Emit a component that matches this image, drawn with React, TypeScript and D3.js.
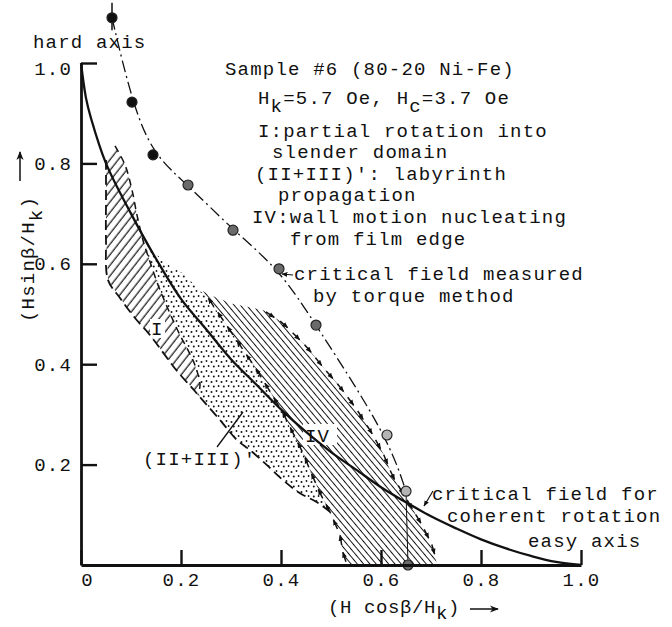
import { useEffect, useRef } from "react";
import * as d3 from "d3";

type Pt = [number, number];

const WIDTH = 672;
const HEIGHT = 627;
const MARGIN = { top: 63, right: 91, bottom: 62, left: 81 };
const FONT = "'Liberation Mono', 'Courier New', monospace";
const FS = 19;
const LS = 1.2;

const xTicks = [0, 0.2, 0.4, 0.6, 0.8, 1.0];
const yTicks = [0.2, 0.4, 0.6, 0.8, 1.0];

// critical field for coherent rotation (solid curve)
const astroidX = [0, 0.01, 0.02, 0.05, 0.1, 0.15, 0.2, 0.25, 0.3, 0.35, 0.4, 0.45, 0.5, 0.55, 0.6, 0.65, 0.7, 0.75, 0.8, 0.85, 0.9, 0.95, 1.0];
const astroidY = [1.0, 0.93, 0.89, 0.8, 0.7, 0.61, 0.53, 0.47, 0.41, 0.36, 0.31, 0.265, 0.225, 0.19, 0.155, 0.125, 0.097, 0.073, 0.051, 0.033, 0.018, 0.006, 0];

// critical field measured by torque method
const torqueX = [0.062, 0.102, 0.144, 0.214, 0.304, 0.396, 0.47, 0.612, 0.65];
const torqueY = [1.09, 0.922, 0.817, 0.757, 0.667, 0.59, 0.478, 0.259, 0.147];
const torqueKind = ["solid", "solid", "solid", "half", "half", "half", "half", "open", "open"];
const topErrorBar = [1.12, 1.065];
const easyPoint: Pt = [0.654, 0];

// region boundaries
const regionIOuter: Pt[] = [
  [0.05, 0.807], [0.05, 0.727], [0.05, 0.647], [0.054, 0.568], [0.078, 0.532], [0.108, 0.492],
  [0.138, 0.458], [0.168, 0.418], [0.194, 0.384], [0.222, 0.353], [0.234, 0.339],
];
const regionIInner: Pt[] = [
  [0.068, 0.835], [0.088, 0.797], [0.102, 0.747], [0.112, 0.697], [0.124, 0.647], [0.138, 0.604],
  [0.154, 0.558], [0.168, 0.524], [0.182, 0.492], [0.198, 0.458], [0.214, 0.428], [0.228, 0.398],
  [0.238, 0.359], [0.234, 0.339],
];
const lowerEdge: Pt[] = [
  [0.234, 0.339], [0.248, 0.323], [0.278, 0.289], [0.312, 0.249], [0.338, 0.229], [0.372, 0.199],
  [0.404, 0.169], [0.438, 0.143], [0.472, 0.125], [0.498, 0.106],
];
const dottedTop: Pt[] = [[0.124, 0.647], [0.168, 0.602], [0.208, 0.578], [0.232, 0.552]];
const ivTop: Pt[] = [[0.232, 0.552], [0.258, 0.538], [0.304, 0.52], [0.364, 0.508]];
const ivLeft: Pt[] = [
  [0.232, 0.552], [0.254, 0.532], [0.284, 0.488], [0.318, 0.438], [0.352, 0.388], [0.382, 0.339],
  [0.404, 0.303], [0.424, 0.263], [0.444, 0.223], [0.458, 0.189], [0.478, 0.143], [0.498, 0.106],
  [0.518, 0.06], [0.524, 0.024], [0.532, 0],
];
const ivRight: Pt[] = [
  [0.364, 0.508], [0.404, 0.482], [0.452, 0.434], [0.484, 0.394], [0.518, 0.355], [0.552, 0.309],
  [0.578, 0.269], [0.604, 0.223], [0.624, 0.175], [0.644, 0.143], [0.664, 0.11], [0.684, 0.076],
  [0.704, 0.036], [0.712, 0],
];

const markerFill: Record<string, string> = { solid: "#111", half: "#6a6a6a", open: "#b4b4b4" };

// split a pixel polyline into short dashes
function dashes(pts: Pt[], dash: number, gap: number) {
  const cum = [0];
  for (let i = 1; i < pts.length; i++) {
    cum.push(cum[i - 1] + Math.hypot(pts[i][0] - pts[i - 1][0], pts[i][1] - pts[i - 1][1]));
  }
  const total = cum[cum.length - 1];
  const at = (s: number): Pt => {
    let i = 1;
    while (i < cum.length - 1 && cum[i] < s) i++;
    const t = (s - cum[i - 1]) / (cum[i] - cum[i - 1] || 1);
    return [pts[i - 1][0] + t * (pts[i][0] - pts[i - 1][0]), pts[i - 1][1] + t * (pts[i][1] - pts[i - 1][1])];
  };
  const out: [Pt, Pt][] = [];
  for (let s = gap / 2; s + dash <= total; s += dash + gap) out.push([at(s), at(s + dash)]);
  return out;
}

export default function App() {
  const axesRef = useRef<SVGGElement>(null);

  const xScale = d3.scaleLinear().domain([0, 1]).range([MARGIN.left, WIDTH - MARGIN.right]);
  const yScale = d3.scaleLinear().domain([0, 1]).range([HEIGHT - MARGIN.bottom, MARGIN.top]);

  const px = (d: Pt): Pt => [xScale(d[0]), yScale(d[1])];
  const curve = d3.line<Pt>().x((d) => xScale(d[0])).y((d) => yScale(d[1])).curve(d3.curveCatmullRom.alpha(0.5));
  const smooth = d3.line<Pt>().x((d) => xScale(d[0])).y((d) => yScale(d[1])).curve(d3.curveBasis);
  const poly = d3.line<Pt>().x((d) => xScale(d[0])).y((d) => yScale(d[1])).curve(d3.curveLinearClosed);

  const astroid: Pt[] = astroidX.map((x, i) => [x, astroidY[i]]);
  const torque: Pt[] = torqueX.map((x, i) => [x, torqueY[i]]);

  const regionI = [...regionIOuter, ...regionIInner.slice().reverse()];
  const dotted = [
    ...dottedTop,
    ...ivLeft.slice(1, 12),
    ...lowerEdge.slice().reverse(),
    ...regionIInner.slice(4).reverse(),
  ];
  const regionIV = [...ivTop, ...ivRight, ...ivLeft.slice().reverse()];

  const upArrows = dashes(ivLeft.slice().reverse().map(px), 10, 7);
  const downArrows = dashes(ivRight.map(px), 10, 7);

  useEffect(() => {
    const g = d3.select(axesRef.current);
    g.selectAll("*").remove();

    const xAxis = d3
      .axisBottom(xScale)
      .tickValues(xTicks)
      .tickSizeInner(-15)
      .tickSizeOuter(0)
      .tickPadding(8)
      .tickFormat((d) => (d === 0 ? "0" : d3.format(".1f")(d as number)));
    const gx = g.append("g").attr("transform", `translate(0,${yScale(0)})`).call(xAxis);
    gx.selectAll<SVGTextElement, number>(".tick text").filter((d) => d === 0).attr("dx", 6);

    const yAxis = d3
      .axisLeft(yScale)
      .tickValues(yTicks)
      .tickSizeInner(-16)
      .tickSizeOuter(0)
      .tickPadding(9)
      .tickFormat(d3.format(".1f"));
    const gy = g.append("g").attr("transform", `translate(${xScale(0)},0)`).call(yAxis);
    gy.selectAll<SVGTextElement, number>(".tick text").filter((d) => d === 1).attr("y", 5);

    g.selectAll(".domain").attr("stroke", "#111").attr("stroke-width", 2.8);
    g.selectAll(".tick line").attr("stroke", "#111").attr("stroke-width", 2.4);
    g.selectAll("g").attr("font-family", null).attr("font-size", null);
    g.selectAll(".tick text")
      .attr("fill", "#111")
      .attr("font-family", FONT)
      .attr("font-size", FS)
      .attr("letter-spacing", LS);
  }, []);

  const textProps = { fontFamily: FONT, fontSize: FS, letterSpacing: LS, fill: "#111" };
  const sub = 8;

  return (
    <svg
      width={WIDTH}
      height={HEIGHT}
      style={{ position: "absolute", left: 0, top: 0, background: "#fff" }}
    >
      <defs>
        <pattern id="hatchI" width="6.5" height="6.5" patternUnits="userSpaceOnUse" patternTransform="rotate(38)">
          <line x1="3" y1="0" x2="3" y2="6.5" stroke="#111" strokeWidth="1.2" />
        </pattern>
        <pattern id="hatchIV" width="4.8" height="4.8" patternUnits="userSpaceOnUse" patternTransform="rotate(-40)">
          <line x1="2.4" y1="0" x2="2.4" y2="4.8" stroke="#111" strokeWidth="1" />
        </pattern>
        <pattern id="dots" width="10" height="10" patternUnits="userSpaceOnUse">
          <circle cx="1.5" cy="2" r="1" fill="#111" />
          <circle cx="6.5" cy="1" r="0.9" fill="#111" />
          <circle cx="3.8" cy="6.6" r="1" fill="#111" />
          <circle cx="8.6" cy="6" r="0.9" fill="#111" />
        </pattern>
        <marker id="arrow" viewBox="0 0 10 10" refX="9" refY="5" markerWidth="6" markerHeight="6"
          markerUnits="userSpaceOnUse" orient="auto">
          <path d="M0,1 L10,5 L0,9 z" fill="#111" />
        </marker>
        <marker id="bigArrow" viewBox="0 0 10 10" refX="9" refY="5" markerWidth="11" markerHeight="9"
          markerUnits="userSpaceOnUse" orient="auto">
          <path d="M0,1 L10,5 L0,9 L3,5 z" fill="#111" />
        </marker>
      </defs>

      {/* regions */}
      <path d={poly(regionI) ?? ""} fill="url(#hatchI)" />
      <path d={poly(dotted) ?? ""} fill="url(#dots)" />
      <path d={poly(regionIV) ?? ""} fill="url(#hatchIV)" />

      {/* label clearings */}
      <rect x={150} y={319} width={15} height={19} fill="#fff" />
      <rect x={303} y={424} width={34} height={21} fill="#fff" />

      {/* boundaries */}
      <path d={curve([...regionIOuter, ...lowerEdge.slice(1)]) ?? ""} fill="none" stroke="#111"
        strokeWidth={1.8} strokeDasharray="10,5" />
      <path d={curve(regionIInner) ?? ""} fill="none" stroke="#111" strokeWidth={1.5} strokeDasharray="7,5" />
      {upArrows.map(([a, b], i) => (
        <line key={`u${i}`} x1={a[0]} y1={a[1]} x2={b[0]} y2={b[1]} stroke="#111" strokeWidth={1.5}
          markerEnd="url(#arrow)" />
      ))}
      {downArrows.map(([a, b], i) => (
        <line key={`d${i}`} x1={a[0]} y1={a[1]} x2={b[0]} y2={b[1]} stroke="#111" strokeWidth={1.5}
          markerEnd="url(#arrow)" />
      ))}

      {/* coherent rotation */}
      <path d={curve(astroid) ?? ""} fill="none" stroke="#111" strokeWidth={2.3} />

      {/* torque measurements */}
      <path d={smooth(torque) ?? ""} fill="none" stroke="#111" strokeWidth={1.3} strokeDasharray="12,4,2,4" />
      <line x1={xScale(torqueX[0])} x2={xScale(torqueX[0])} y1={yScale(topErrorBar[0])} y2={yScale(topErrorBar[1])}
        stroke="#111" strokeWidth={1.5} />
      <line x1={xScale(torqueX[8])} x2={xScale(easyPoint[0])} y1={yScale(torqueY[8])} y2={yScale(easyPoint[1])}
        stroke="#111" strokeWidth={1} />
      {torque.map((d, i) => (
        <circle key={i} cx={xScale(d[0])} cy={yScale(d[1])} r={5} fill={markerFill[torqueKind[i]]}
          stroke="#222" strokeWidth={1.2} />
      ))}
      <circle cx={xScale(easyPoint[0])} cy={yScale(easyPoint[1])} r={5} fill={markerFill.half} stroke="#222"
        strokeWidth={1.2} />

      <g ref={axesRef} />

      {/* annotations */}
      <text {...textProps} x={33} y={48}>hard axis</text>
      <text {...textProps} x={225} y={75}>Sample #6 (80-20 Ni-Fe)</text>
      <text {...textProps} x={258} y={104}>
        H<tspan dy={sub}>k</tspan><tspan dy={-sub}>=5.7 Oe, H</tspan><tspan dy={sub}>c</tspan>
        <tspan dy={-sub}>=3.7 Oe</tspan>
      </text>
      <text {...textProps} x={258} y={137}>I:partial rotation into</text>
      <text {...textProps} x={272} y={158}>slender domain</text>
      <text {...textProps} x={255} y={180}>(II+III)′: labyrinth</text>
      <text {...textProps} x={278} y={201}>propagation</text>
      <text {...textProps} x={252} y={223}>IV:wall motion nucleating</text>
      <text {...textProps} x={290} y={245}>from film edge</text>
      <line x1={293} y1={275} x2={282} y2={274} stroke="#111" strokeWidth={1.2} markerEnd="url(#arrow)" />
      <text {...textProps} x={294} y={280}>critical field measured</text>
      <text {...textProps} x={313} y={302}>by torque method</text>

      <line x1={433} y1={491} x2={424} y2={506} stroke="#111" strokeWidth={1.2} markerEnd="url(#arrow)" />
      <text {...textProps} x={432} y={500}>critical field for</text>
      <text {...textProps} x={447} y={522}>coherent rotation</text>
      <text {...textProps} x={528} y={547}>easy axis</text>

      <text {...textProps} x={151} y={335}>I</text>
      <text {...textProps} x={305} y={442}>IV</text>
      <text {...textProps} x={143} y={465}>(II+III)′</text>
      <line x1={217} y1={447} x2={243} y2={412} stroke="#111" strokeWidth={1.3} />

      {/* axis titles */}
      <text {...textProps} textAnchor="middle" transform="translate(34,259) rotate(-90)">
        (Hsinβ/H<tspan dy={sub}>k</tspan><tspan dy={-sub}>)</tspan>
      </text>
      <line x1={20} y1={181} x2={20} y2={152} stroke="#111" strokeWidth={1.5} markerEnd="url(#bigArrow)" />
      <text {...textProps} x={328} y={613} letterSpacing={0.6}>
        (H cosβ/H<tspan dy={6}>k</tspan><tspan dy={-6}>)</tspan>
      </text>
      <line x1={470} y1={609} x2={498} y2={609} stroke="#111" strokeWidth={1.5} markerEnd="url(#bigArrow)" />
    </svg>
  );
}
